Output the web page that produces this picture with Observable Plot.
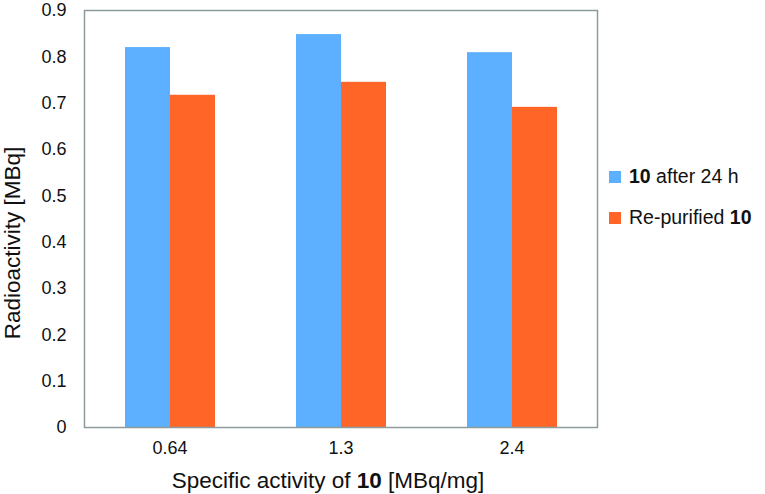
<!DOCTYPE html>
<html>
<head>
<meta charset="utf-8">
<script src="https://cdn.jsdelivr.net/npm/d3@7"></script>
<script src="https://cdn.jsdelivr.net/npm/@observablehq/plot@0.6"></script>
<style>
  html, body { margin: 0; padding: 0; background: #fff; }
  #wrap { position: relative; width: 765px; height: 494px; font-family: "Liberation Sans", Arial, sans-serif; color: #111; }
  #chart { position: absolute; left: 0; top: 0; }
  #legend { position: absolute; left: 609px; top: 156px; font-size: 19.5px; line-height: 41px; }
  .item { display: flex; align-items: center; white-space: nowrap; }
  .sw { width: 12px; height: 12px; margin-right: 8px; display: inline-block; }
</style>
</head>
<body>
<div id="wrap">
  <div id="chart"></div>
  <div id="legend"></div>
</div>
<script>
const groups = ["0.64", "1.3", "2.4"];
const seriesNames = ["10 after 24 h", "Re-purified 10"];
const afterValues = [0.820, 0.848, 0.809];
const repurifiedValues = [0.717, 0.745, 0.691];
const yTicks = [0, 0.1, 0.2, 0.3, 0.4, 0.5, 0.6, 0.7, 0.8, 0.9];
const colors = ["#5cb0ff", "#ff6526"];

const data = [];
groups.forEach((g, i) => {
  data.push({group: g, series: seriesNames[0], value: afterValues[i]});
  data.push({group: g, series: seriesNames[1], value: repurifiedValues[i]});
});

const frameColor = "#8c9c9c";

const plot = Plot.plot({
  width: 605,
  height: 494,
  marginTop: 10,
  marginBottom: 67,
  marginLeft: 83,
  marginRight: 8,
  style: {fontFamily: "'Liberation Sans', Arial, sans-serif", fontSize: "18px", color: "#111", background: "#fff"},
  fx: {domain: groups, padding: 0, label: "Specific activity of 10 [MBq/mg]", labelArrow: "none", axis: "bottom", tickSize: 0, tickPadding: 14, labelAnchor: "center", labelOffset: 60},
  x: {domain: seriesNames, paddingInner: 0, paddingOuter: 0.9, axis: null},
  y: {domain: [0, 0.9], ticks: yTicks, tickFormat: d => String(d), tickSize: 0, tickPadding: 18, label: "Radioactivity [MBq]", labelArrow: "none", labelAnchor: "center", labelOffset: 80, grid: false},
  color: {domain: seriesNames, range: colors},
  marks: [
    Plot.barY(data, {fx: "group", x: "series", y: "value", fill: "series", inset: 0}),
    Plot.frame({stroke: frameColor, strokeWidth: 1.5, facet: "super"})
  ]
});
document.getElementById("chart").appendChild(plot);

// Axis label styling: bold "10"
const svg = d3.select(plot);
svg.selectAll("g[aria-label='fx-axis label'] text").each(function() {
  const t = d3.select(this);
  t.text(null).style("font-size", "22.5px").attr("dx", "-13");
  t.append("tspan").text("Specific activity of ");
  t.append("tspan").attr("font-weight", "bold").text("10");
  t.append("tspan").text(" [MBq/mg]");
});
svg.selectAll("g[aria-label='y-axis label'] text").style("font-size", "22.5px").attr("dx", "-24");

// Legend
const legend = d3.select("#legend");
const parts = [[["10", true], [" after 24 h", false]], [["Re-purified ", false], ["10", true]]];
parts.forEach((p, i) => {
  const it = legend.append("div").attr("class", "item");
  it.append("span").attr("class", "sw").style("background", colors[i]);
  const s = it.append("span");
  p.forEach(([txt, b]) => s.append("span").style("font-weight", b ? "bold" : "normal").text(txt));
});
</script>
</body>
</html>
